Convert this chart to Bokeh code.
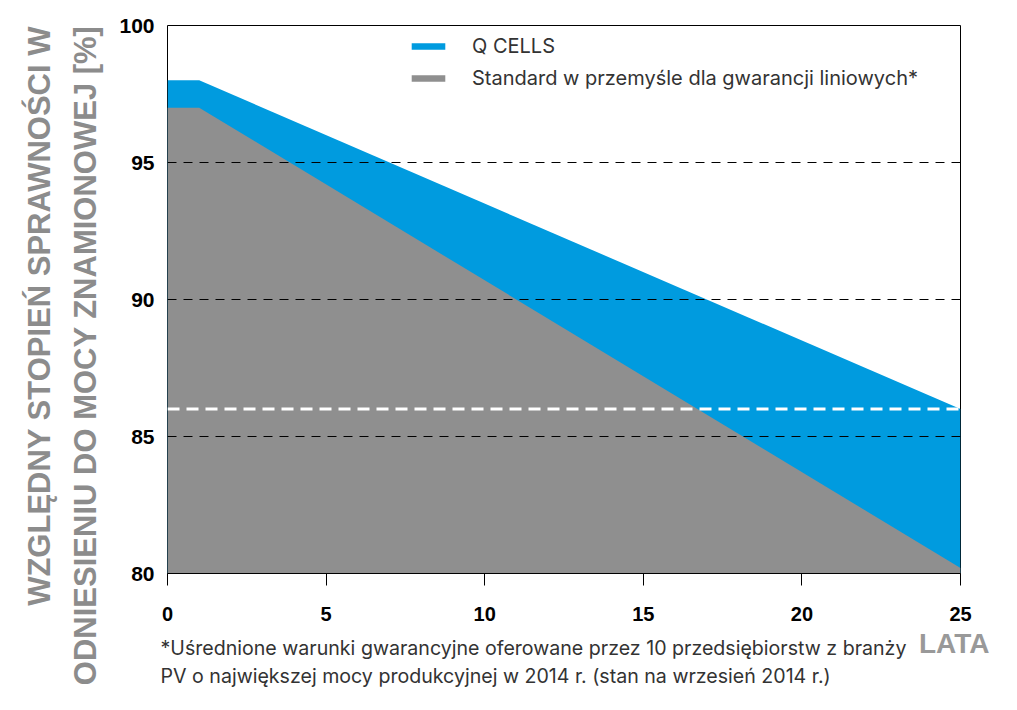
from bokeh.plotting import figure
from bokeh.models import (Span, Legend, LegendItem, FixedTicker, Range1d, Title, Label,
                          LinearAxis)
from bokeh.embed import file_html
from bokeh.resources import INLINE

# ---- data ----
years = [0, 1, 25]
qcells = [98, 98, 86]
standard = [97, 97, 80.2]
y_ticks = [80, 85, 90, 95, 100]
x_ticks = [0, 5, 10, 15, 20, 25]
highlight_ticks = [98, 86]
dashed_levels = [85, 90, 95]
qcells_end = [86]
series_names = ["Q CELLS", "Standard w przemyśle dla gwarancji liniowych*"]
y_title = ["WZGLĘDNY STOPIEŃ SPRAWNOŚCI W", "ODNIESIENIU DO MOCY ZNAMIONOWEJ [%]"]
x_title = "LATA"
footnote = ["*Uśrednione warunki gwarancyjne oferowane przez 10 przedsiębiorstw z branży",
            "PV o największej mocy produkcyjnej w 2014 r. (stan na wrzesień 2014 r.)"]

# text anchor positions (layout only, in axis units)
y_title_center = 89.4
lata_pos = 24.8

BLUE = "#009BDF"
GREY = "#8F8F8F"
TITLE_GREY = "#8C8C8C"
W, H = 1000, 700

p = figure(width=W, height=H, x_range=Range1d(0, 25), y_range=Range1d(80, 100),
           output_backend="svg", toolbar_location=None,
           min_border_left=167, min_border_right=40, min_border_top=25, min_border_bottom=127)
p.xgrid.visible = False
p.ygrid.visible = False
p.outline_line_color = "black"
p.outline_line_width = 1

r1 = p.varea(x=years, y1=[80] * len(years), y2=qcells, fill_color=BLUE)
r2 = p.varea(x=years, y1=[80] * len(years), y2=standard, fill_color=GREY)

for lv in dashed_levels:
    p.add_layout(Span(location=lv, dimension="width", line_color="black",
                      line_width=1, line_dash="9 7"))
for lv in qcells_end:
    p.add_layout(Span(location=lv, dimension="width", line_color="white",
                      line_width=3, line_dash="12 7"))

# axes
p.xaxis.ticker = FixedTicker(ticks=x_ticks)
p.xaxis.major_tick_out = 12
p.xaxis.major_tick_in = 0
p.xaxis.minor_tick_line_color = None
p.xaxis.axis_line_color = "black"
p.xaxis.major_label_standoff = 21
p.xaxis.major_label_text_font = "Liberation Sans"
p.xaxis.major_label_text_font_style = "bold"
p.xaxis.major_label_text_font_size = "20px"
p.xaxis.major_label_text_color = "black"

p.yaxis.ticker = FixedTicker(ticks=y_ticks)
p.yaxis.major_tick_out = 0
p.yaxis.major_tick_in = 0
p.yaxis.minor_tick_line_color = None
p.yaxis.axis_line_color = None
p.yaxis.major_label_standoff = 13
p.yaxis.major_label_text_font = "Liberation Sans"
p.yaxis.major_label_text_font_style = "bold"
p.yaxis.major_label_text_font_size = "21px"
p.yaxis.major_label_text_color = "black"

for v in highlight_ticks:
    p.add_layout(Label(x=0, y=v, x_offset=-13, text=str(v), text_align="right",
                       text_baseline="middle", text_color=BLUE,
                       text_font="Liberation Sans", text_font_style="bold",
                       text_font_size="21px"))

# legend
legend = Legend(items=[LegendItem(label=series_names[0], renderers=[r1]),
                       LegendItem(label=series_names[1], renderers=[r2])],
                location=(240, 483), padding=0, margin=0, border_line_color=None,
                background_fill_alpha=0, glyph_width=42, glyph_height=8,
                label_height=20, spacing=8, label_standoff=23,
                label_text_font="Inter", label_text_font_size="20px",
                label_text_color="#333333")
p.add_layout(legend)

# y axis title: inner line as a title, outer line as a label-only axis
p.add_layout(Title(text=y_title[1], align="right", standoff=27,
                   text_font="Liberation Sans", text_font_style="bold",
                   text_font_size="31px", text_color=TITLE_GREY), "left")
title_axis = LinearAxis(ticker=FixedTicker(ticks=[y_title_center]),
                        major_label_overrides={y_title_center: y_title[0]},
                        major_label_orientation="vertical",
                        axis_line_color=None, major_tick_line_color=None,
                        minor_tick_line_color=None, major_label_standoff=-11,
                        major_label_text_font="Liberation Sans",
                        major_label_text_font_style="bold",
                        major_label_text_font_size="31px",
                        major_label_text_color=TITLE_GREY)
p.add_layout(title_axis, "left")

# footnote below the x axis
p.add_layout(Title(text="\n".join(footnote), align="left", offset=-7, standoff=20,
                   text_font="Inter", text_font_style="normal", text_font_size="19.6px",
                   text_line_height=1.19, text_color="#333333"), "below")

# x title "LATA": an extra axis with one label near the last tick
lata_axis = LinearAxis(ticker=FixedTicker(ticks=[lata_pos]),
                       major_label_overrides={lata_pos: x_title},
                       axis_line_color=None, major_tick_line_color=None,
                       minor_tick_line_color=None, major_label_standoff=-77,
                       major_label_text_font="Liberation Sans",
                       major_label_text_font_style="bold",
                       major_label_text_font_size="28px",
                       major_label_text_color="#999999")
p.add_layout(lata_axis, "below")

open("out.html", "w").write(file_html(p, INLINE))
